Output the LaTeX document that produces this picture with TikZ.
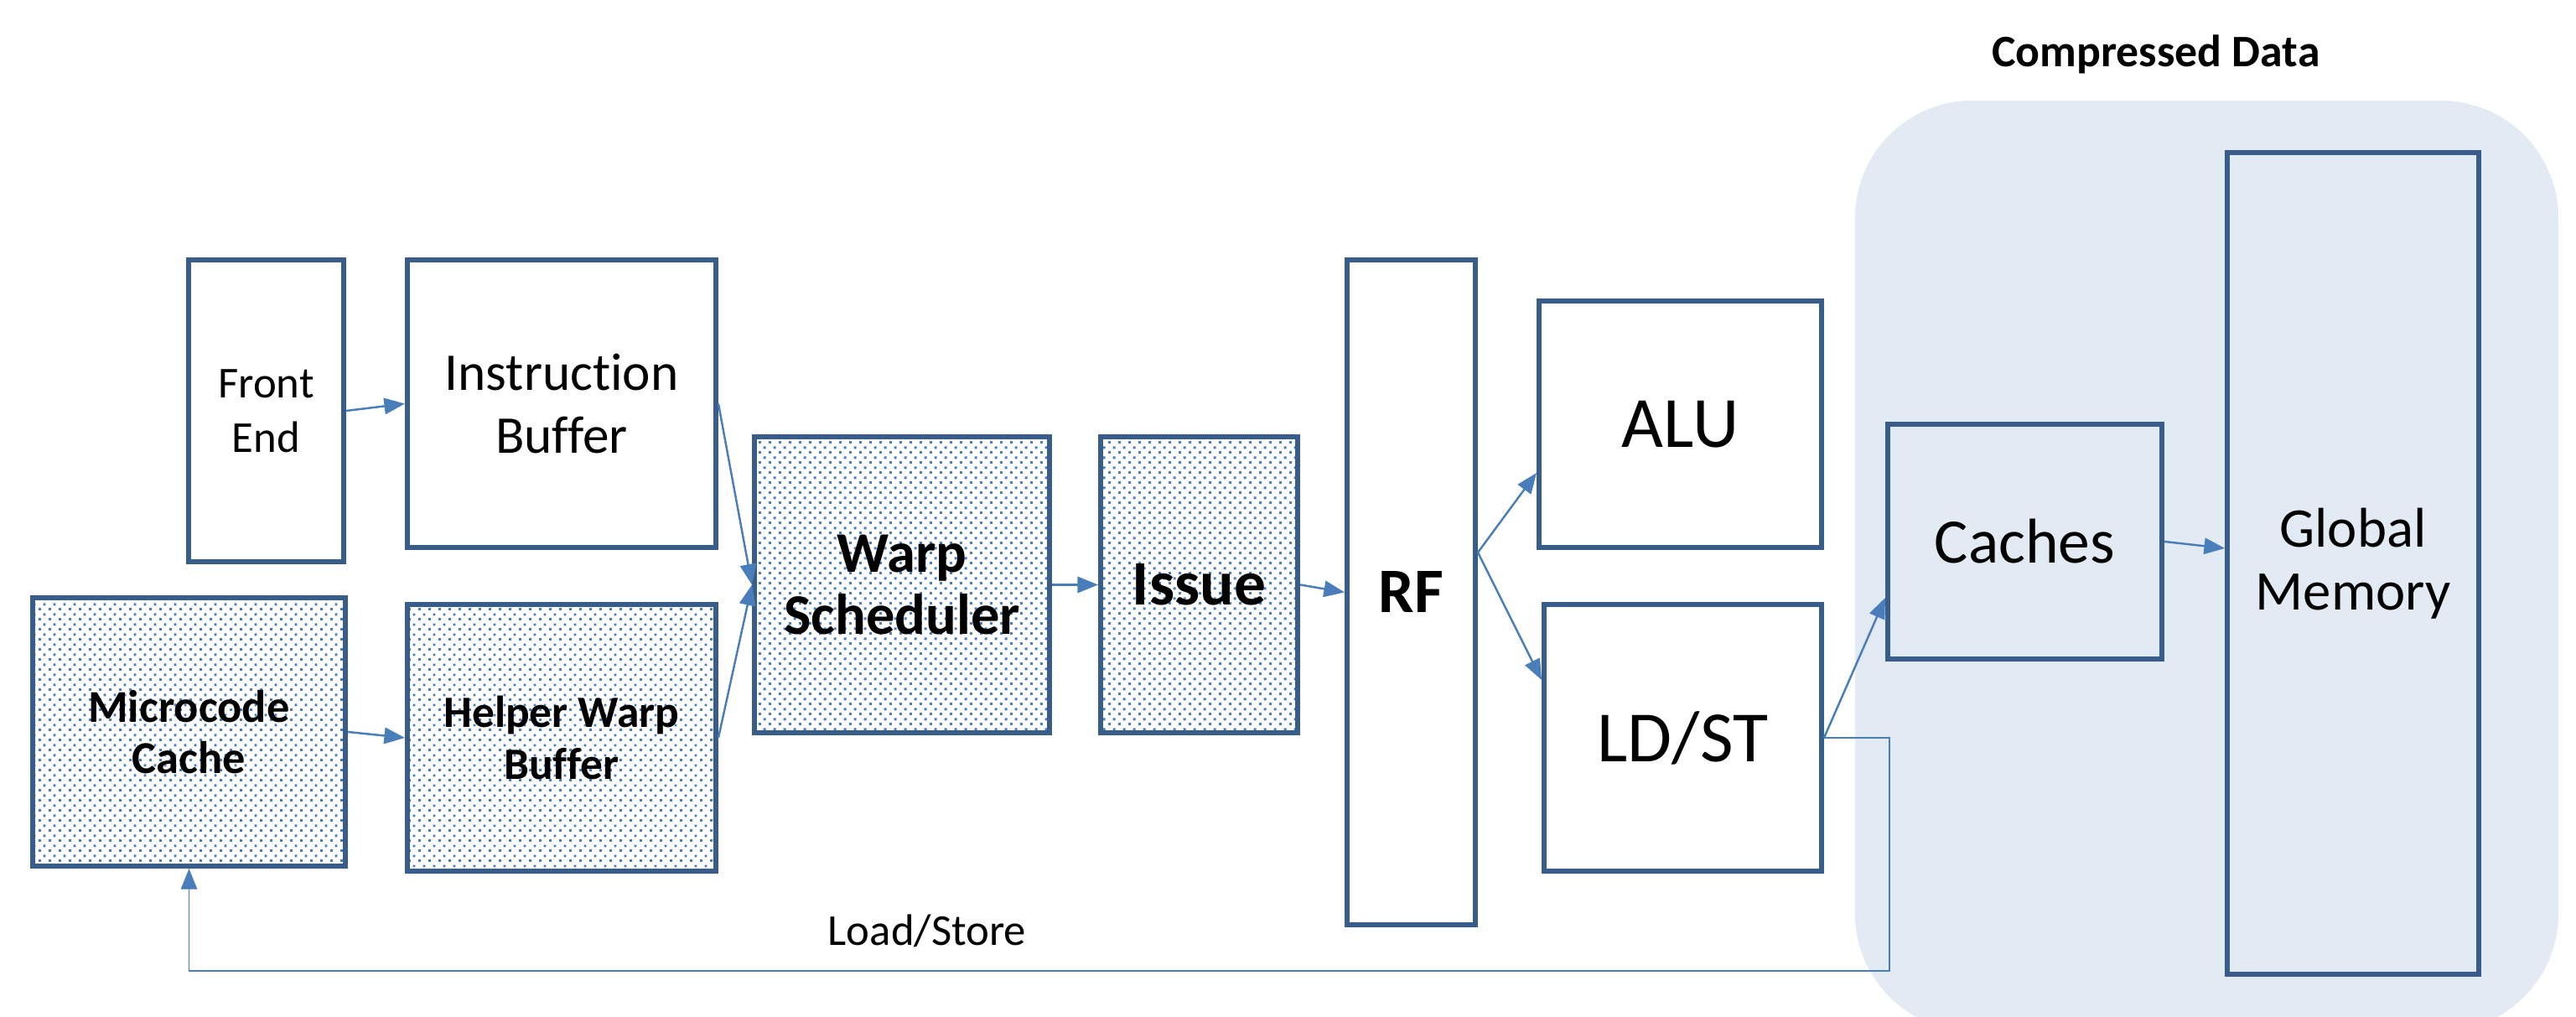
\documentclass[tikz,border=0pt]{standalone}
\usepackage{fontspec}
\setmainfont{Carlito}[Ligatures=NoCommon]
\usetikzlibrary{arrows.meta,patterns.meta}
\definecolor{boxblue}{HTML}{385D8A}
\definecolor{linkblue}{HTML}{4A7EBB}
\definecolor{databack}{HTML}{E2EAF4}

% staggered square dots for the helper-warp blocks
\pgfdeclarepattern{
  name=stagdots, type=uncolored,
  bottom left={\pgfpoint{0pt}{0pt}}, top right={\pgfpoint{3.3pt}{3.3pt}},
  tile size={\pgfpoint{3.3pt}{3.3pt}},
  code={
    \pgfpathrectangle{\pgfpoint{0pt}{0pt}}{\pgfpoint{0.85pt}{0.85pt}}
    \pgfpathrectangle{\pgfpoint{1.65pt}{1.65pt}}{\pgfpoint{0.85pt}{0.85pt}}
    \pgfusepath{fill}
  }
}

\begin{document}
\begin{tikzpicture}[
    blk/.style={draw=boxblue, line width=1.7pt, inner sep=0pt, align=center},
    dotblk/.style={blk, pattern=stagdots, pattern color=linkblue},
    link/.style={linkblue, line width=0.7pt, -{Triangle[length=7pt,width=5.5pt]}}]
    \useasboundingbox (0,0) rectangle (30.73,12.13);

    % shaded memory side
    \fill[databack, rounded corners=1.4cm] (22.13,-0.17) rectangle (30.52,10.93);
    \node[font=\bfseries\fontsize{15.3}{18}\selectfont] (cdata) at (25.72,11.48) {Compressed Data};

    % fetch side
    \node[blk, minimum width=1.85cm, minimum height=3.6cm, font=\fontsize{15}{18.5}\selectfont] (fe) at (3.175,7.23) {Front\\End};
    \node[blk, minimum width=3.68cm, minimum height=3.43cm, font=\fontsize{18}{21.5}\selectfont] (ib) at (6.70,7.315) {Instruction\\Buffer};
    \node[dotblk, minimum width=3.73cm, minimum height=3.2cm, font=\bfseries\fontsize{15.5}{17.5}\selectfont] (mc) at (2.255,3.40) {Microcode\\Cache};
    \node[dotblk, minimum width=3.68cm, minimum height=3.18cm, font=\bfseries\fontsize{15.2}{17.5}\selectfont] (hwb) at (6.70,3.33) {Helper Warp\\Buffer};

    % scheduling and issue
    \node[dotblk, minimum width=3.52cm, minimum height=3.53cm, font=\bfseries\fontsize{19.5}{21}\selectfont] (ws) at (10.76,5.155) {Warp\\Scheduler};
    \node[dotblk, minimum width=2.35cm, minimum height=3.53cm, font=\bfseries\fontsize{21.5}{24}\selectfont] (issue) at (14.305,5.155) {Issue};
    \node[blk, minimum width=1.53cm, minimum height=7.93cm, font=\bfseries\fontsize{21.5}{24}\selectfont] (rf) at (16.835,5.065) {RF};

    % execution units
    \node[blk, minimum width=3.37cm, minimum height=2.94cm, font=\fontsize{24.5}{28}\selectfont] (alu) at (20.045,7.07) {ALU};
    \node[blk, minimum width=3.31cm, minimum height=3.18cm, font=\fontsize{24.5}{28}\selectfont] (ldst) at (20.075,3.33) {LD/ST};

    % memory
    \node[blk, minimum width=3.27cm, minimum height=2.80cm, font=\fontsize{21.5}{26}\selectfont] (caches) at (24.155,5.67) {Caches};
    \node[blk, minimum width=3.0cm, minimum height=9.8cm, font=\fontsize{19}{21.5}\selectfont] (gm) at (28.07,5.41) {Global\\Memory};

    \draw[link] (fe.east) -- (ib.west);
    \draw[link] (mc.east) -- (hwb.west);
    \draw[link] (ib.east) -- (ws.west);
    \draw[link] (hwb.east) -- (ws.west);
    \draw[link] (ws.east) -- (issue.west);
    \draw[link] (issue.east) -- (rf.west);
    \draw[link] ([yshift=0.475cm]rf.east) -- ([yshift=-0.58cm]alu.west);
    \draw[link] ([yshift=0.475cm]rf.east) -- ([yshift=0.69cm]ldst.west);
    \draw[link] (ldst.east) -- ([yshift=-0.67cm]caches.west);
    \draw[link] (caches.east) -- ([yshift=0.18cm]gm.west);

    % load/store return path
    \coordinate (ret) at (22.54,0.55);
    \draw[link, line width=0.5pt] (ldst.east) -| (ret) -| (mc.south);
    \node[font=\fontsize{15}{18}\selectfont] (lsl) at (11.06,1.03) {Load/Store};
\end{tikzpicture}
\end{document}
